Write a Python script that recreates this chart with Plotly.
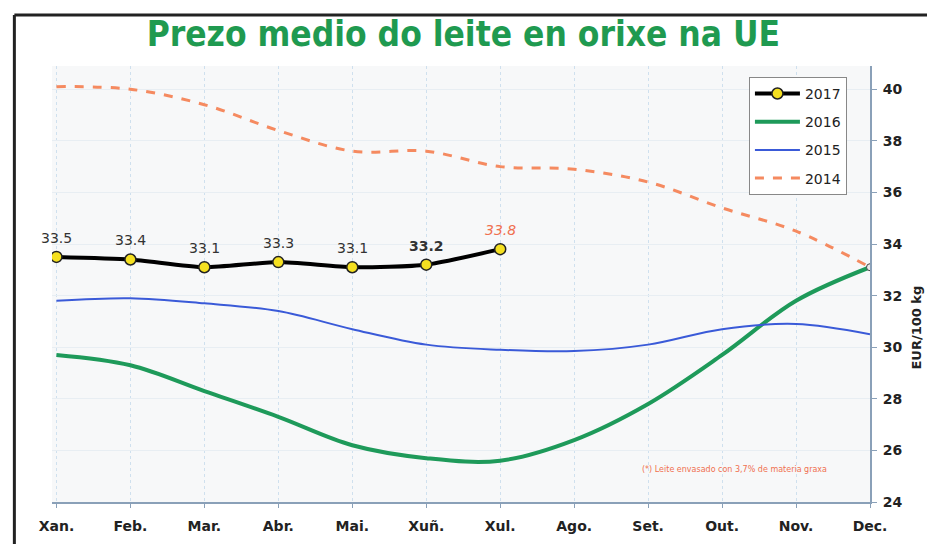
import plotly.graph_objects as go

months = ["Xan.", "Feb.", "Mar.", "Abr.", "Mai.", "Xuñ.", "Xul.", "Ago.", "Set.", "Out.", "Nov.", "Dec."]
y2017 = [33.5, 33.4, 33.1, 33.3, 33.1, 33.2, 33.8]
y2016 = [29.7, 29.3, 28.3, 27.3, 26.2, 25.7, 25.6, 26.4, 27.8, 29.7, 31.8, 33.1]
y2015 = [31.8, 31.9, 31.7, 31.4, 30.7, 30.1, 29.9, 29.85, 30.1, 30.7, 30.9, 30.5]
y2014 = [40.1, 40.0, 39.4, 38.4, 37.6, 37.6, 37.0, 36.9, 36.4, 35.4, 34.5, 33.1]
labels2017 = ["33.5", "33.4", "33.1", "33.3", "33.1", "<b>33.2</b>", "<i>33.8</i>"]
label_colors = ["#333333"] * 6 + ["#f07050"]
yticks = [24, 26, 28, 30, 32, 34, 36, 38, 40]

x = list(range(12))
fig = go.Figure()

fig.add_trace(go.Scatter(x=x, y=y2017, name="2017", mode="lines+markers", legendgroup="a",
                         line=dict(color="black", width=4, shape="spline", smoothing=0.6),
                         marker=dict(color="#f5e020", size=11, line=dict(color="#222", width=1.5))))
fig.add_trace(go.Scatter(x=x, y=y2016, name="2016", mode="lines", legendgroup="b",
                         line=dict(color="#1e9a5a", width=4, shape="spline", smoothing=1.0)))
fig.add_trace(go.Scatter(x=x, y=y2015, name="2015", mode="lines", legendgroup="c",
                         line=dict(color="#3a5ad8", width=2, shape="spline", smoothing=1.0)))
fig.add_trace(go.Scatter(x=x, y=y2014, name="2014", mode="lines", legendgroup="d",
                         line=dict(color="#f58a60", width=3, dash="dash", shape="spline", smoothing=1.0)))
# end marker at Dec
fig.add_trace(go.Scatter(x=[11], y=[y2016[11]], mode="markers", showlegend=False,
                         marker=dict(color="#e8e8e8", size=7, line=dict(color="#444", width=1))))

for i, (v, t) in enumerate(zip(y2017, labels2017)):
    fig.add_annotation(x=i, y=v, text=t, showarrow=False, yshift=19,
                       font=dict(family="DejaVu Sans", size=14, color=label_colors[i]))

fig.add_annotation(xref="paper", yref="paper", x=0.95, y=0.06, xanchor="right",
                   text="(*) Leite envasado con 3,7% de materia graxa",
                   showarrow=False, font=dict(family="DejaVu Sans", size=8, color="#f07050"))

fig.add_annotation(xref="paper", yref="paper", x=1.069, y=0.40, text="<b>EUR/100 kg</b>",
                   textangle=-90, showarrow=False,
                   font=dict(family="DejaVu Sans", size=13, color="#222"))

# outer frame (page offset 8px)
fig.add_shape(type="line", xref="paper", yref="paper", x0=-0.046, x1=1.12, y0=1.117, y1=1.117,
              line=dict(color="#222", width=3))
fig.add_shape(type="line", xref="paper", yref="paper", x0=-0.046, x1=-0.046, y0=-0.25, y1=1.117,
              line=dict(color="#222", width=3))

fig.update_layout(
    width=935, height=544,
    margin=dict(l=44, r=73, t=58, b=50),
    paper_bgcolor="white",
    plot_bgcolor="#f7f8f9",
    title=dict(text="<b>Prezo medio do leite en orixe na UE</b>", x=0.487, xanchor="center",
               y=0.952, yanchor="middle",
               font=dict(family="DejaVu Sans Condensed, DejaVu Sans", size=35, color="#1f9a50")),
    legend=dict(x=0.852, y=0.975, xanchor="left", yanchor="top", bgcolor="white",
                bordercolor="#888", borderwidth=1,
                font=dict(family="DejaVu Sans", size=14, color="#222"),
                itemwidth=45, tracegroupgap=7),
    xaxis=dict(range=[-0.06, 11.0], tickmode="array", tickvals=x, ticktext=months,
               showgrid=True, gridcolor="#cfe0ee", gridwidth=1, griddash="dot",
               showline=True, linecolor="#8aa0b8", linewidth=2, ticks="outside",
               tickcolor="#8aa0b8", ticklen=4, zeroline=False, ticklabelstandoff=6,
               tickfont=dict(family="DejaVu Sans", size=14, color="#222", weight="bold")),
    yaxis=dict(range=[24, 40.9], side="right", tickvals=yticks,
               showgrid=True, gridcolor="#e8eef3", gridwidth=1,
               showline=True, linecolor="#8aa0b8", linewidth=2, ticks="outside",
               tickcolor="#8aa0b8", ticklen=5, zeroline=False, ticklabelstandoff=3,
               tickfont=dict(family="DejaVu Sans", size=14, color="#222", weight="bold")),
    showlegend=True,
)

fig.write_html("out.html")
